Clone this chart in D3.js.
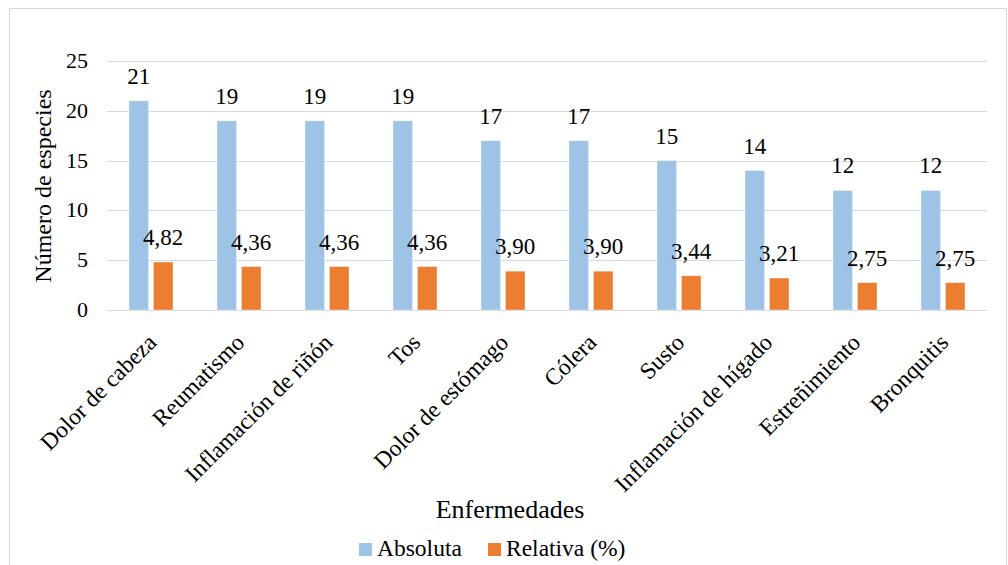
<!DOCTYPE html>
<html><head><meta charset="utf-8">
<script src="https://cdn.jsdelivr.net/npm/d3@7"></script>
</head><body style="margin:0">
<svg id="s" width="1008" height="565"></svg>
<script>
const categories = ["Dolor de cabeza", "Reumatismo", "Inflamación de riñón", "Tos", "Dolor de estómago", "Cólera", "Susto", "Inflamación de hígado", "Estreñimiento", "Bronquitis"];
const absoluta = [21, 19, 19, 19, 17, 17, 15, 14, 12, 12];
const relativa = [4.82, 4.36, 4.36, 4.36, 3.90, 3.90, 3.44, 3.21, 2.75, 2.75];
const seriesNames = ["Absoluta", "Relativa (%)"];
const yTicks = [0, 5, 10, 15, 20, 25];

const colors = ["#9dc3e6", "#ed7d31"];
const FONT = "Liberation Serif";

const svg = d3.select("#s");
const plot = { left: 107, right: 987, top: 61, bottom: 310 };

// chart border
svg.append("rect").attr("x", 9.5).attr("y", 8.5).attr("width", 997).attr("height", 600)
  .attr("fill", "#fff").attr("stroke", "#d9d9d9").attr("stroke-width", 1);

const x0 = d3.scaleBand().domain(categories).range([plot.left, plot.right])
  .paddingInner(0.5).paddingOuter(0.25);
const x1 = d3.scaleBand().domain(seriesNames).range([0, x0.bandwidth()]).paddingInner(0.2);
const y = d3.scaleLinear().domain([0, 25]).range([plot.bottom, plot.top]);

// gridlines
svg.append("g").selectAll("line").data(yTicks).join("line")
  .attr("x1", plot.left).attr("x2", plot.right)
  .attr("y1", d => Math.round(y(d)) + 0.5).attr("y2", d => Math.round(y(d)) + 0.5)
  .attr("stroke", "#d9d9d9").attr("stroke-width", 1);

// y axis tick labels
svg.append("g").selectAll("text").data(yTicks).join("text")
  .attr("x", 88).attr("y", d => y(d)).attr("dy", "0.32em")
  .attr("text-anchor", "end").attr("font-size", 22).attr("fill", "#000")
  .style("font-family", FONT)
  .text(d => d3.format("d")(d));

// bars
const rows = categories.map((c, i) => ({ cat: c, vals: [absoluta[i], relativa[i]] }));
const groups = svg.append("g").selectAll("g").data(rows).join("g")
  .attr("transform", d => `translate(${x0(d.cat)},0)`);
groups.selectAll("rect").data(d => d.vals.map((v, k) => ({ k, v }))).join("rect")
  .attr("x", d => x1(seriesNames[d.k]))
  .attr("y", d => y(d.v))
  .attr("width", x1.bandwidth())
  .attr("height", d => y(0) - y(d.v))
  .attr("fill", d => colors[d.k])
  .attr("stroke", "#ffffff").attr("stroke-opacity", 0.5).attr("stroke-width", 0.75);

// data labels
const fmt = (v, k) => k === 0 ? d3.format("d")(v) : d3.format(".2f")(v).replace(".", ",");
groups.selectAll("text").data(d => d.vals.map((v, k) => ({ k, v }))).join("text")
  .attr("text-anchor", "middle").attr("font-size", 23).attr("fill", "#000")
  .style("font-family", FONT)
  .attr("x", d => x1(seriesNames[d.k]) + x1.bandwidth() / 2)
  .attr("y", d => y(d.v) - 17)
  .text(d => fmt(d.v, d.k));

// x category labels
svg.append("g").selectAll("text").data(categories).join("text")
  .attr("text-anchor", "end").attr("font-size", 23.5).attr("fill", "#000")
  .style("font-family", FONT)
  .attr("dy", "0.35em")
  .attr("transform", d => `translate(${x0(d) + x0.bandwidth() / 2 + 1},${plot.bottom + 28}) rotate(-45)`)
  .text(d => d);

// axis titles
svg.append("text").attr("text-anchor", "middle").attr("font-size", 24)
  .style("font-family", FONT)
  .attr("transform", `translate(51,186) rotate(-90)`)
  .text("Número de especies");
svg.append("text").attr("text-anchor", "middle").attr("font-size", 26)
  .style("font-family", FONT)
  .attr("x", 510).attr("y", 518)
  .text("Enfermedades");

// legend
const legendItems = [{ name: seriesNames[0], x: 359, c: colors[0] }, { name: seriesNames[1], x: 488, c: colors[1] }];
const lg = svg.append("g").selectAll("g").data(legendItems).join("g")
  .attr("transform", d => `translate(${d.x},0)`);
lg.append("rect").attr("x", 0).attr("y", 543).attr("width", 13).attr("height", 13).attr("fill", d => d.c);
lg.append("text").attr("font-size", 23.5)
  .style("font-family", FONT)
  .attr("x", 18).attr("y", 556)
  .text(d => d.name);
</script></body></html>
